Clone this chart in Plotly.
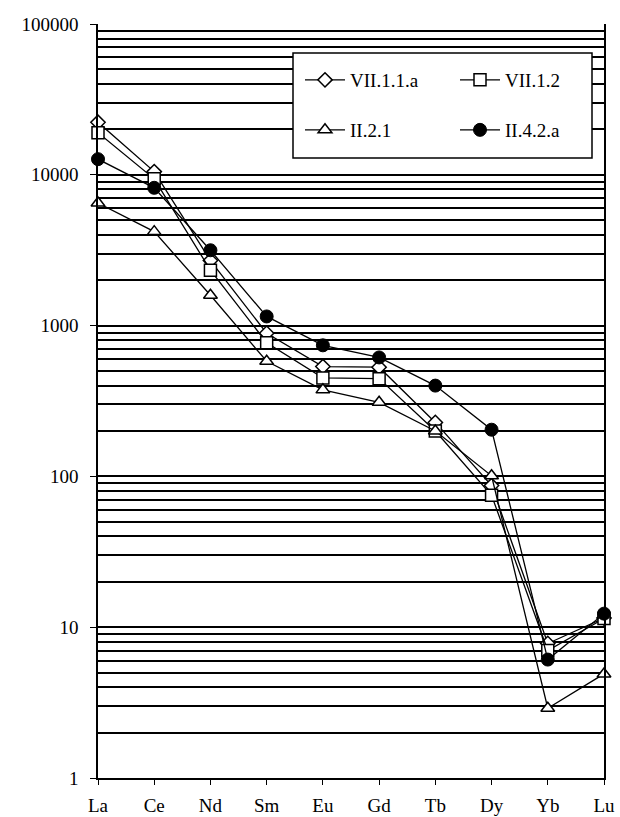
import plotly.graph_objects as go

categories = ["La", "Ce", "Nd", "Sm", "Eu", "Gd", "Tb", "Dy", "Yb", "Lu"]
s_vii_1_1_a = [22300, 10500, 2700, 890, 535, 530, 228, 87, 7.8, 11.5]
s_vii_1_2 = [19000, 9400, 2330, 770, 450, 445, 200, 75, 7.0, 11.4]
s_ii_2_1 = [6500, 4200, 1590, 580, 375, 310, 200, 101, 2.9, 4.9]
s_ii_4_2_a = [12700, 8200, 3160, 1150, 740, 615, 400, 204, 6.1, 12.3]
series_names = ["VII.1.1.a", "VII.1.2", "II.2.1", "II.4.2.a"]
y_tick_values = [1, 10, 100, 1000, 10000, 100000]
y_tick_labels = ["1", "10", "100", "1000", "10000", "100000"]

FONT = "Liberation Serif"
W, H = 620, 817
L, R, T, B = 98, 16, 24, 39
PW, PH = W - L - R, H - T - B

def px_x(p):
    return (p - L) / PW

def px_y(p):
    return (H - B - p) / PH

fig = go.Figure()
styles = [
    dict(symbol="diamond", size=11, color="white", line=dict(color="black", width=1.5)),
    dict(symbol="square", size=12, color="white", line=dict(color="black", width=1.5)),
    dict(symbol="triangle-up", size=12, color="white", line=dict(color="black", width=1.5)),
    dict(symbol="circle", size=13, color="black", line=dict(color="black", width=1)),
]
data = [s_vii_1_1_a, s_vii_1_2, s_ii_2_1, s_ii_4_2_a]
legends = ["legend", "legend", "legend2", "legend2"]
for name, vals, st, lg in zip(series_names, data, styles, legends):
    fig.add_trace(go.Scatter(
        x=categories, y=vals, name=name, mode="lines+markers",
        line=dict(color="black", width=1.3), marker=st,
        cliponaxis=False, legend=lg,
    ))

fig.update_layout(
    width=W, height=H,
    margin=dict(l=L, r=R, t=T, b=B, autoexpand=False),
    paper_bgcolor="white", plot_bgcolor="white",
    font=dict(family=FONT, size=19, color="black"),
    xaxis=dict(
        type="category", categoryorder="array", categoryarray=categories,
        range=[0, len(categories) - 1],
        showgrid=False, zeroline=False,
        showline=True, linecolor="black", linewidth=1.5,
        ticks="outside", ticklen=5, tickwidth=1.3, tickcolor="black",
        ticklabelstandoff=4,
    ),
    xaxis2=dict(
        overlaying="x", range=[0, len(categories) - 1],
        tickvals=list(range(len(categories))), showticklabels=False,
        ticks="inside", ticklen=5, tickwidth=1.3, tickcolor="black",
        showgrid=False, zeroline=False, showline=False, side="bottom",
    ),
    yaxis=dict(
        type="log", range=[0, 5],
        tickvals=y_tick_values, ticktext=y_tick_labels,
        showgrid=True, gridcolor="black", gridwidth=1.5,
        minor=dict(dtick="D1", showgrid=True, gridcolor="black", gridwidth=1.5),
        showline=True, linecolor="black", linewidth=1.5, mirror=True,
        ticks="outside", ticklen=6, tickwidth=1.3, tickcolor="black",
        ticklabelstandoff=8,
        zeroline=False,
    ),
    showlegend=True,
    legend=dict(
        orientation="h", x=px_x(300), y=px_y(80), xanchor="left", yanchor="middle",
        bgcolor="rgba(0,0,0,0)", borderwidth=0, entrywidth=100,
        font=dict(family=FONT, size=19), itemwidth=40,
    ),
    legend2=dict(
        orientation="h", x=px_x(300), y=px_y(130), xanchor="left", yanchor="middle",
        bgcolor="rgba(0,0,0,0)", borderwidth=0, entrywidth=100,
        font=dict(family=FONT, size=19), itemwidth=40,
    ),
    shapes=[dict(
        type="rect", xref="paper", yref="paper",
        x0=px_x(293), x1=px_x(592), y0=px_y(158), y1=px_y(53),
        fillcolor="white", line=dict(color="black", width=1.5), layer="above",
    )],
)

fig.write_html("out.html")
